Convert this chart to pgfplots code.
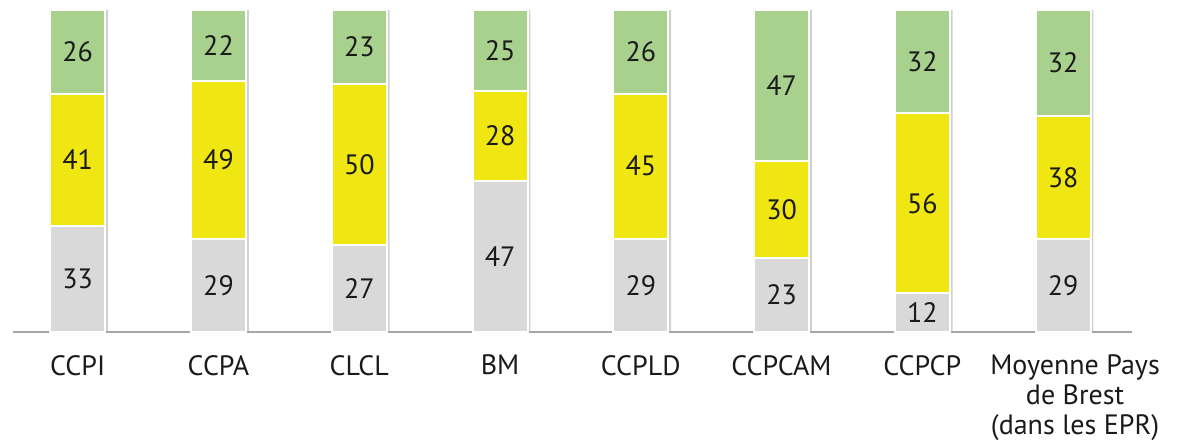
\documentclass[border=0pt]{standalone}
\usepackage{pgfplots}
\pgfplotsset{compat=1.18}
\usepackage{pgfplotstable}
\usepackage{fontspec}
\setmainfont{PT Sans}
\definecolor{cgreen}{HTML}{A9D18E}
\definecolor{cyellow}{HTML}{F0E612}
\definecolor{cgray}{HTML}{D9D9D9}
\definecolor{caxis}{HTML}{A6A6A6}
\definecolor{ctext}{HTML}{1A1A1A}

% a, b, c: segment heights; cl: label shown on the top segment
\pgfplotstableread{
x a b c cl
0 33 41 26 26
1 29 49 22 22
2 27 50 23 23
3 47 28 25 25
4 29 45 26 26
5 23 30 47 47
6 12 56 32 32
7 29 38 33 32
}\data

\pgfplotsset{
  base/.style={
    width=559.5pt, height=161pt, scale only axis,
    xmin=-0.46, xmax=7.49, ymin=0, ymax=100,
    bar width=27.5pt,
  },
}

\begin{document}
\begin{tikzpicture}
% soft shadow behind bars
\begin{axis}[base, hide axis, ybar, bar shift=1.4pt]
\addplot[fill=black!18, draw=none] table[x=x, y expr=100.4]{\data};
\end{axis}
\begin{axis}[base, name=main,
    ybar stacked,
    axis x line*=bottom, axis y line=none,
    x axis line style={-, caxis, line width=1pt},
    xtick={0,...,7},
    xticklabels={CCPI,CCPA,CLCL,BM,CCPLD,CCPCAM,CCPCP,{\hspace*{12pt}Moyenne Pays\\\hspace*{12pt}de Brest\\\hspace*{12pt}(dans les EPR)}},
    major tick length=0pt,
    xticklabel style={font=\fontsize{14}{15}\selectfont, text=ctext, align=center, yshift=-8pt},
    clip=false,
  ]
\addplot[fill=cgray, draw=white, line width=1pt] table[x=x, y=a]{\data};
\addplot[fill=cyellow, draw=white, line width=1pt] table[x=x, y=b]{\data};
\addplot[fill=cgreen, draw=white, line width=1pt] table[x=x, y=c]{\data};
\end{axis}
% value labels at the middle of each segment
\begin{axis}[base, hide axis, clip=false,
    /pgf/number format/assume math mode=true,
    nodes near coords, point meta=explicit,
    every node near coord/.append style={font=\fontsize{14}{15}\selectfont, text=ctext, anchor=center},
  ]
\addplot[only marks, mark=none] table[x=x, y expr=\thisrow{a}/2, meta=a]{\data};
\addplot[only marks, mark=none] table[x=x, y expr=\thisrow{a}+\thisrow{b}/2, meta=b]{\data};
\addplot[only marks, mark=none] table[x=x, y expr=\thisrow{a}+\thisrow{b}+\thisrow{c}/2, meta=cl]{\data};
\end{axis}
\pgfresetboundingbox
\path ([xshift=-6.5pt,yshift=-57pt]main.south west) rectangle ([xshift=27pt,yshift=5pt]main.north east);
\end{tikzpicture}
\end{document}
